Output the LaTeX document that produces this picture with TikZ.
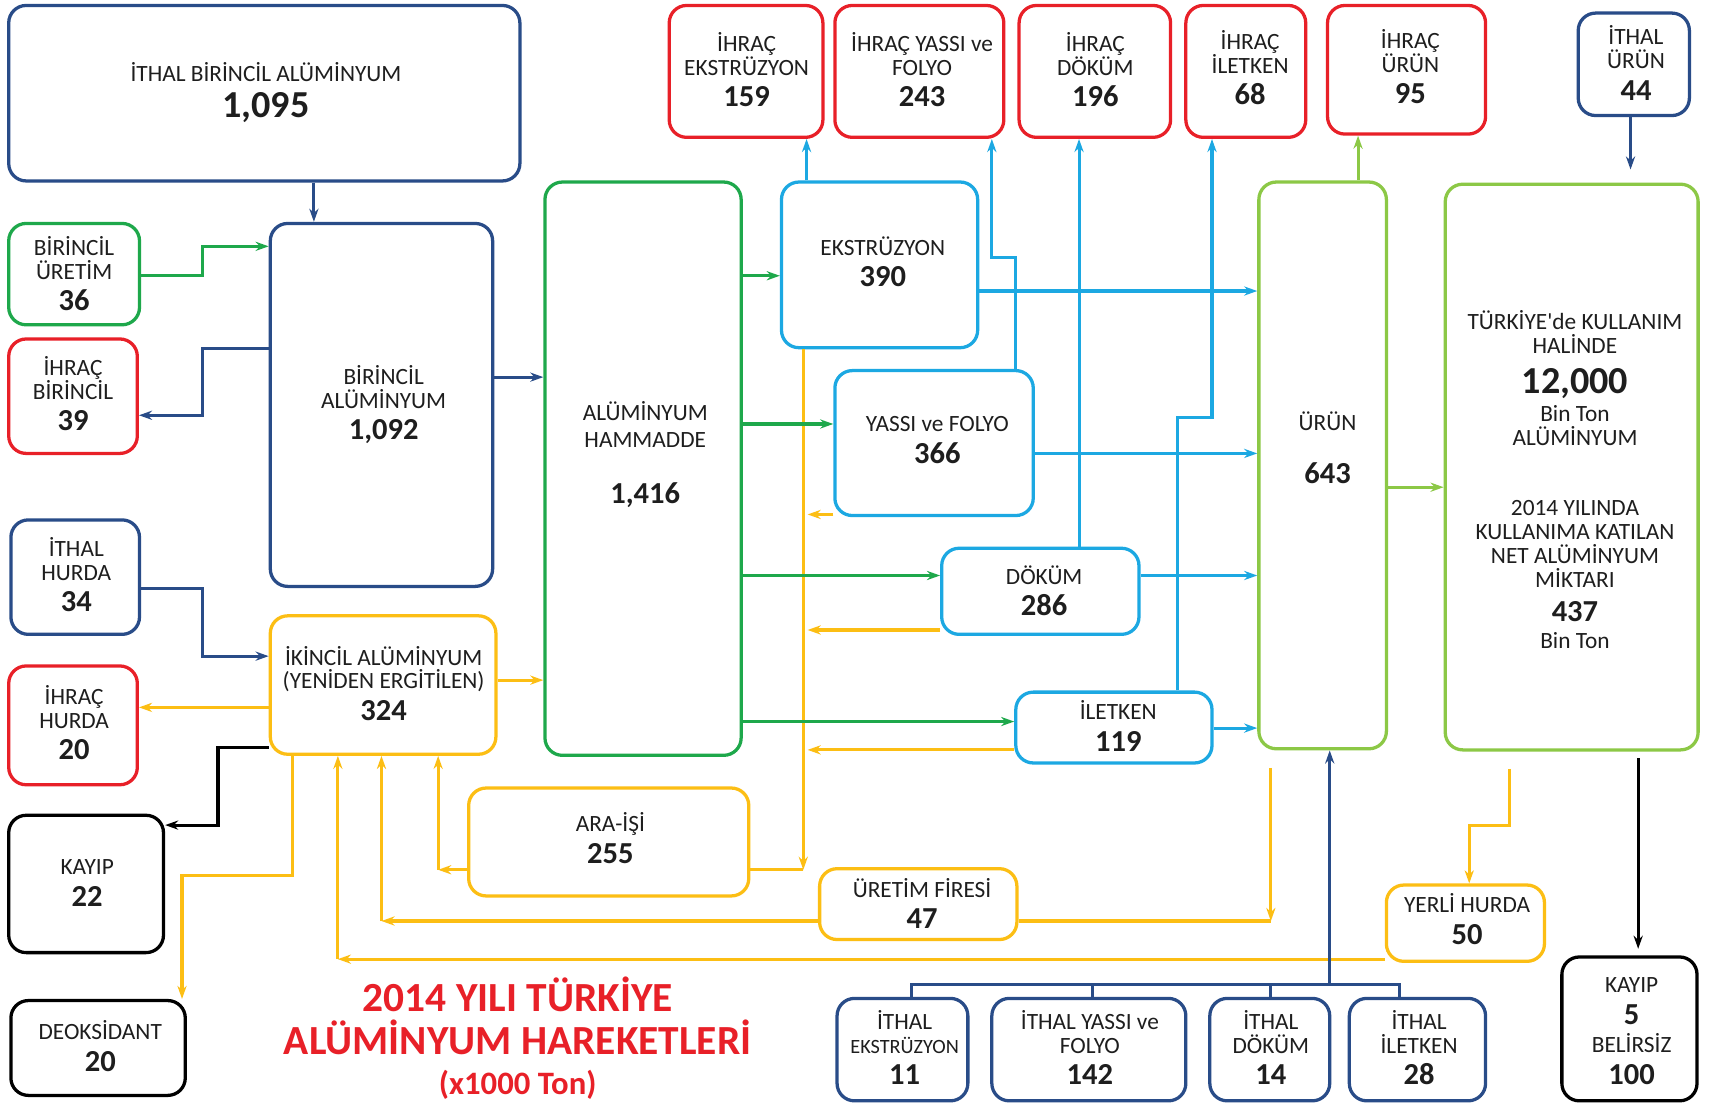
\documentclass[tikz,border=0pt]{standalone}
\usepackage{fontspec}
\setmainfont{Carlito}
\usetikzlibrary{arrows.meta,fit,calc}
\definecolor{cdb}{RGB}{41,76,136}
\definecolor{cred}{RGB}{232,32,40}
\definecolor{cdg}{RGB}{30,168,75}
\definecolor{clb}{RGB}{28,168,226}
\definecolor{clg}{RGB}{140,200,70}
\definecolor{cye}{RGB}{252,190,20}
\definecolor{txt}{RGB}{30,30,30}
\tikzset{
  bx/.style={draw=#1, line width=1.5pt, rounded corners=8pt, inner sep=0pt},
  lbl/.style={text=txt, align=center, font=\fontsize{10.7}{11}\selectfont, inner sep=0pt},
  cn/.style={draw=#1, line width=1.4pt},
  ar/.style={-{Stealth[length=6pt,width=4.2pt]}},
  ttl/.style={text=cred, font=\bfseries\fontsize{19}{22}\selectfont, inner sep=0pt}
}
\newcommand\nbx[1]{{\fontsize{14}{15}\selectfont\bfseries #1}}
\newcommand\nb[1]{\\[3.5pt]\nbx{#1}}
\newcommand\bnb[1]{\\[4pt]{\fontsize{17.5}{18}\selectfont\bfseries #1}}
\begin{document}
\begin{tikzpicture}[x=0.5pt,y=-0.5pt]
\useasboundingbox[fill=white] (0,0) rectangle (1568,1014);
% ---- boxes
\node[bx=cdb, fit={(8,5) (477,166)}] (ibir) {};
\node[bx=cdg, fit={(8,205) (128,298)}] (bur) {};
\node[bx=cred, fit={(8,311) (126,416)}] (ibr) {};
\node[bx=cdb, fit={(248,205) (452,538)}] (bal) {};
\node[bx=cdb, fit={(10,477) (128,582)}] (ihu) {};
\node[bx=cred, fit={(8,611) (126,720)}] (xhu) {};
\node[bx=cye, fit={(248,565) (455,692)}] (ika) {};
\node[bx=black, fit={(8,748) (150,874)}] (kay) {};
\node[bx=black, fit={(10,918) (170,1005)}] (deo) {};
\node[bx=cdg, fit={(500,167) (680,693)}] (ham) {};
\node[bx=cye, fit={(430,723) (687,822)}] (ara) {};
\node[bx=clb, fit={(717,167) (897,319)}] (eks) {};
\node[bx=clb, fit={(766,340) (948,473)}] (yas) {};
\node[bx=clb, fit={(864,503) (1045,582)}] (dok) {};
\node[bx=clb, fit={(932,635) (1112,700)}] (ile) {};
\node[bx=clg, fit={(1155,167) (1272,687)}] (urun) {};
\node[bx=clg, fit={(1326,169) (1558,688)}] (tur) {};
\node[bx=cred, fit={(614,5) (755,126)}] (xeks) {};
\node[bx=cred, fit={(766,5) (921,126)}] (xyas) {};
\node[bx=cred, fit={(935,5) (1074,126)}] (xdok) {};
\node[bx=cred, fit={(1088,5) (1198,126)}] (xile) {};
\node[bx=cred, fit={(1218,5) (1363,123)}] (xurun) {};
\node[bx=cdb, fit={(1448,12) (1550,106)}] (iurun) {};
\node[bx=cye, fit={(752,797) (933,862)}] (fire) {};
\node[bx=cye, fit={(1272,812) (1417,882)}] (yerli) {};
\node[bx=black, fit={(1433,878) (1557,1010)}] (kay2) {};
\node[bx=cdb, fit={(768,916) (888,1010)}] (ieks) {};
\node[bx=cdb, fit={(910,916) (1088,1010)}] (iyas) {};
\node[bx=cdb, fit={(1110,916) (1220,1010)}] (idok) {};
\node[bx=cdb, fit={(1238,916) (1363,1010)}] (iile) {};
% ---- texts
\node[lbl] (ibir-t) at (244,85) {İTHAL BİRİNCİL ALÜMİNYUM\bnb{1,095}};
\node[lbl] (bur-t) at (68,251) {BİRİNCİL\\ÜRETİM\nb{36}};
\node[lbl] (ibr-t) at (67,361) {İHRAÇ\\BİRİNCİL\nb{39}};
\node[lbl] (bal-t) at (352,371) {BİRİNCİL\\ALÜMİNYUM\nb{1,092}};
\node[lbl] (ihu-t) at (70,527) {İTHAL\\HURDA\nb{34}};
\node[lbl] (xhu-t) at (68,663) {İHRAÇ\\HURDA\nb{20}};
\node[lbl] (ika-t) at (352,627) {İKİNCİL ALÜMİNYUM\\(YENİDEN ERGİTİLEN)\nb{324}};
\node[lbl] (kay-t) at (80,810) {KAYIP\nb{22}};
\node[lbl] (deo-t) at (92,960) {DEOKSİDANT\nb{20}};
\node[lbl] (ham-t) at (592,417) {ALÜMİNYUM\\[1.5pt]HAMMADDE\\[14.5pt]\nbx{1,416}};
\node[lbl] (ara-t) at (560,769) {ARA-İŞİ\nb{255}};
\node[lbl] (eks-t) at (810,240) {EKSTRÜZYON\nb{390}};
\node[lbl] (yas-t) at (860,404) {YASSI ve FOLYO\nb{366}};
\node[lbl] (dok-t) at (958,542) {DÖKÜM\nb{286}};
\node[lbl] (ile-t) at (1026,666) {İLETKEN\nb{119}};
\node[lbl] (urun-t) at (1218,411) {ÜRÜN\\[13.5pt]\nbx{643}};
\node[lbl] (tur-t1) at (1445,347) {TÜRKİYE\textquotesingle de KULLANIM\\HALİNDE\\[5.7pt]{\fontsize{17.5}{18}\selectfont\bfseries 12,000}\\[1.8pt]Bin Ton\\ALÜMİNYUM};
\node[lbl] (tur-t2) at (1445,527) {2014 YILINDA\\KULLANIMA KATILAN\\NET ALÜMİNYUM\\MİKTARI\\[4.5pt]\nbx{437}\\[1.5pt]Bin Ton};
\node[lbl] (xeks-t) at (685,64) {İHRAÇ\\EKSTRÜZYON\nb{159}};
\node[lbl] (xyas-t) at (846,64) {İHRAÇ YASSI ve\\FOLYO\nb{243}};
\node[lbl] (xdok-t) at (1005,64) {İHRAÇ\\DÖKÜM\nb{196}};
\node[lbl] (xile-t) at (1147,62) {İHRAÇ\\İLETKEN\nb{68}};
\node[lbl] (xurun-t) at (1294,61) {İHRAÇ\\ÜRÜN\nb{95}};
\node[lbl] (iurun-t) at (1501,58) {İTHAL\\ÜRÜN\nb{44}};
\node[lbl] (fire-t) at (846,829) {ÜRETİM FİRESİ\nb{47}};
\node[lbl] (yerli-t) at (1346,843) {YERLİ HURDA\nb{50}};
\node[lbl] (kay2-t) at (1497,946) {KAYIP\\[3.5pt]\nbx{5}\\[2pt]BELİRSİZ\\[3.5pt]\nbx{100}};
\node[lbl] (ieks-t) at (830,961) {İTHAL\\{\fontsize{9.3}{11}\selectfont EKSTRÜZYON}\nb{11}};
\node[lbl] (iyas-t) at (1000,961) {İTHAL YASSI ve\\FOLYO\nb{142}};
\node[lbl] (idok-t) at (1166,961) {İTHAL\\DÖKÜM\nb{14}};
\node[lbl] (iile-t) at (1302,961) {İTHAL\\İLETKEN\nb{28}};
\node[ttl] (title1) at (475,912) {2014 YILI TÜRKİYE};
\node[ttl] (title2) at (475,952) {ALÜMİNYUM HAREKETLERİ};
\node[ttl, font=\bfseries\fontsize{15}{17}\selectfont] (title3) at (475,995) {(x1000 Ton)};
% ---- dark blue connectors
\draw[cn=cdb,ar] (288,0 |- ibir.south) -- (288,0 |- bal.north);
\draw[cn=cdb,ar] (bal.west |- 0,320) -- (186,320) -- (186,381) -- (ibr.east |- 0,381);
\draw[cn=cdb,ar] (bal.east |- 0,346) -- (ham.west |- 0,346);
\draw[cn=cdb,ar] (ihu.east |- 0,540) -- (186,540) -- (186,602) -- (ika.west |- 0,602);
\draw[cn=cdb,ar,shorten >=6pt] (1496,0 |- iurun.south) -- (1496,0 |- tur.north);
\coordinate (bus) at (1220,903);
\draw[cn=cdb] (836,0 |- ieks.north) -- (836,903) -- (1284,903) -- (1284,0 |- iile.north);
\draw[cn=cdb] (1002,0 |- iyas.north) -- (1002,903);
\draw[cn=cdb] (1166,0 |- idok.north) -- (1166,903);
% ---- yellow connectors
\draw[cn=cye,ar] (ika.east |- 0,624) -- (ham.west |- 0,624);
\draw[cn=cye,ar] (ika.west |- 0,649) -- (xhu.east |- 0,649);
\coordinate (ycorner) at (737,798);
\draw[cn=cye,ar] (737,0 |- eks.south) -- (ycorner);
\draw[cn=cye] (ycorner) -- (ara.east |- ycorner);
\draw[cn=cye,ar] (yas.west |- 0,472) -- (741,472);
\draw[cn=cye,ar] (dok.west |- 0,578) -- (741,578);
\draw[cn=cye,ar] (ile.west |- 0,688) -- (741,688);
\coordinate (acorner) at (402,798);
\draw[cn=cye,ar] (ara.west |- acorner) -- (acorner);
\draw[cn=cye,ar] (acorner) -- (402,0 |- ika.south);
\draw[cn=cye,ar] (268,0 |- ika.south) -- (268,803) -- (167,803) -- (167,0 |- deo.north);
\coordinate (fcorner) at (1166,845);
\draw[cn=cye,ar,shorten <=8pt] (1166,0 |- urun.south) -- (fcorner);
\draw[cn=cye] (fire.east |- fcorner) -- (fcorner);
\coordinate (fleft) at (350,845);
\draw[cn=cye,ar] (fire.west |- fleft) -- (fleft);
\draw[cn=cye,ar] (fleft) -- (350,0 |- ika.south);
\draw[cn=cye,ar,shorten <=8pt] (1385,0 |- tur.south) -- (1385,757) -- (1348,757) -- (1348,0 |- yerli.north);
\coordinate (hleft) at (310,880);
\draw[cn=cye,ar] (yerli.west |- hleft) -- (hleft);
\draw[cn=cye,ar] (hleft) -- (310,0 |- ika.south);
\draw[cn=cdb,ar] (bus) -- (1220,0 |- urun.south);
% ---- dark green connectors
\draw[cn=cdg,ar] (bur.east |- 0,253) -- (186,253) -- (186,226) -- (bal.west |- 0,226);
\draw[cn=cdg,ar] (ham.east |- 0,253) -- (eks.west |- 0,253);
\draw[cn=cdg,ar] (ham.east |- 0,389) -- (yas.west |- 0,389);
\draw[cn=cdg,ar] (ham.east |- 0,528) -- (dok.west |- 0,528);
\draw[cn=cdg,ar] (ham.east |- 0,662) -- (ile.west |- 0,662);
% ---- light blue connectors
\draw[cn=clb,ar] (740,0 |- eks.north) -- (740,0 |- xeks.south);
\draw[cn=clb,ar] (eks.east |- 0,267) -- (urun.west |- 0,267);
\draw[cn=clb,ar] (932,0 |- yas.north) -- (932,236) -- (910,236) -- (910,0 |- xyas.south);
\draw[cn=clb,ar] (yas.east |- 0,416) -- (urun.west |- 0,416);
\draw[cn=clb,ar] (990,0 |- dok.north) -- (990,0 |- xdok.south);
\draw[cn=clb,ar] (dok.east |- 0,528) -- (urun.west |- 0,528);
\draw[cn=clb,ar] (1080,0 |- ile.north) -- (1080,383) -- (1112,383) -- (1112,0 |- xile.south);
\draw[cn=clb,ar] (ile.east |- 0,668) -- (urun.west |- 0,668);
% ---- light green connectors
\draw[cn=clg,ar] (1246,0 |- urun.north) -- (1246,0 |- xurun.south);
\draw[cn=clg,ar] (urun.east |- 0,447) -- (tur.west |- 0,447);
% ---- black connectors
\draw[cn=black,ar] (ika.west |- 0,686) -- (200,686) -- (200,757) -- (kay.east |- 0,757);
\draw[cn=black,ar,shorten <=3pt,shorten >=3pt] (1503,0 |- tur.south) -- (1503,0 |- kay2.north);
\end{tikzpicture}
\end{document}
